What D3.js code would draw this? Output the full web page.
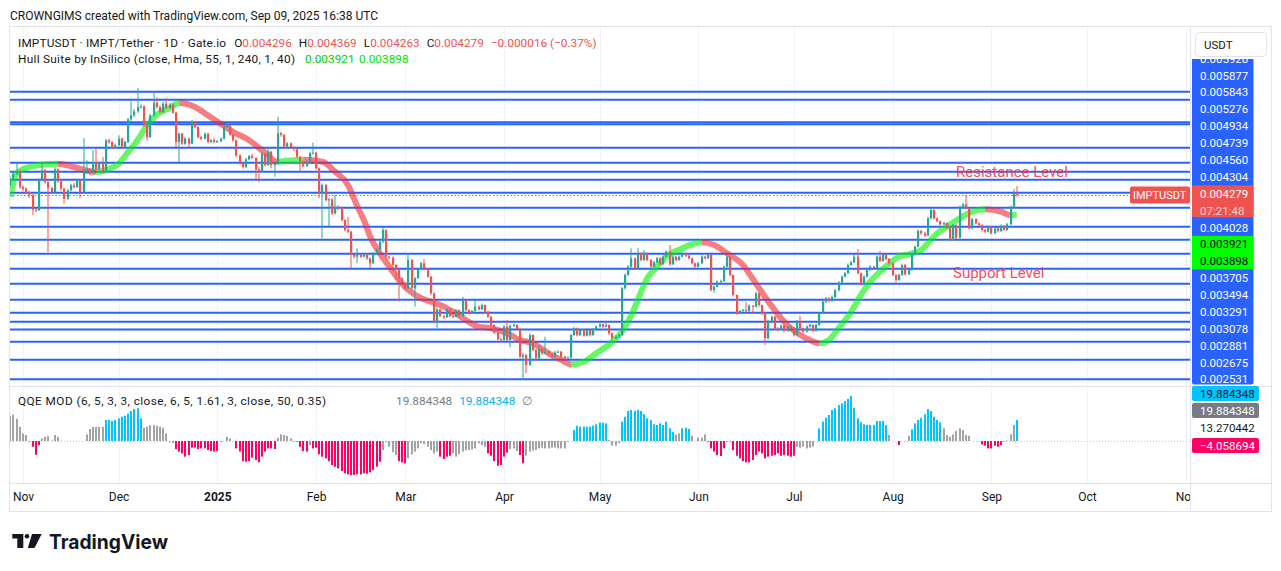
<!DOCTYPE html>
<html>
<head>
<meta charset="utf-8">
<script src="https://cdn.jsdelivr.net/npm/d3@7"></script>
<style>
  body { margin: 0; background: #fff; }
  svg { display: block; font-family: Roboto, "Noto Sans", sans-serif; }
</style>
</head>
<body>
<div id="chart"></div>
<script>
// prices are stored in millionths of a USDT
const PRICE_UNIT = 1e-6;
const firstDay = new Date(Date.UTC(2024, 9, 28));
const hullBase = new Date(Date.UTC(2024, 10, 1));

// daily candles, 28 Oct 2024 .. 9 Sep 2025
const open = [
  4376, 4442, 4492, 4516, 4359, 4342, 4309, 4276, 4132, 4126,
  4432, 4526, 4409, 4349, 4309, 4536, 4416, 4342, 4242, 4326,
  4376, 4359, 4426, 4309, 4509, 4536, 4502, 4609, 4536, 4592,
  4516, 4826, 4809, 4749, 4776, 4842, 4759, 4809, 5036, 5076,
  5116, 5159, 5166, 4976, 4859, 5076, 5202, 5159, 5109, 5192,
  5149, 5182, 5102, 4809, 4892, 4792, 4842, 4792, 5009, 4959,
  4859, 4842, 4892, 4809, 4826, 4809, 4816, 4842, 4959, 4976,
  4882, 4826, 4676, 4592, 4559, 4636, 4669, 4649, 4536, 4516,
  4692, 4579, 4712, 4579, 4596, 4896, 4879, 4762, 4796, 4756,
  4736, 4662, 4612, 4569, 4612, 4696, 4702, 4546, 4296, 4379,
  4229, 4236, 4096, 4162, 4146, 4029, 3929, 3912, 3679, 3662,
  3679, 3662, 3686, 3646, 3596, 3696, 3729, 3812, 3929, 3662,
  3652, 3579, 3529, 3446, 3396, 3346, 3629, 3346, 3446, 3536,
  3596, 3536, 3462, 3296, 3012, 3136, 3069, 3056, 3136, 3069,
  3062, 3129, 3069, 3229, 3129, 3096, 3119, 3162, 3136, 3179,
  3112, 3062, 2979, 2903, 2836, 2829, 2962, 2829, 2969, 2979,
  2940, 2662, 2679, 2579, 2879, 2729, 2646, 2739, 2696, 2712,
  2686, 2662, 2706, 2712, 2662, 2646, 2652, 2879, 2946, 2879,
  2929, 2872, 2929, 2879, 2939, 2962, 2986, 2962, 2979, 2896,
  2846, 2862, 2879, 3346, 3479, 3562, 3646, 3546, 3696, 3629,
  3696, 3629, 3562, 3606, 3646, 3586, 3662, 3712, 3586, 3662,
  3629, 3662, 3696, 3672, 3646, 3596, 3562, 3596, 3662, 3646,
  3679, 3329, 3362, 3412, 3419, 3562, 3662, 3479, 3279, 3096,
  3119, 3129, 3119, 3172, 3162, 3296, 3179, 3096, 2846, 3012,
  3062, 2946, 2929, 2972, 2919, 2962, 2952, 2879, 3012, 2946,
  2912, 2962, 2979, 2919, 2979, 3096, 3212, 3246, 3219, 3259,
  3326, 3406, 3462, 3496, 3579, 3606, 3662, 3496, 3386, 3462,
  3529, 3562, 3546, 3662, 3619, 3679, 3639, 3596, 3479, 3429,
  3479, 3579, 3486, 3529, 3686, 3762, 3919, 3896, 3872, 4046,
  4129, 4046, 4019, 3986, 3999, 3952, 3829, 3979, 3852, 4162,
  4186, 4146, 3946, 4039, 3996, 3979, 3929, 3912, 3962, 3896,
  3946, 3919, 3972, 3929, 3986, 4162, 4296
];
const high = [
  4470, 4510, 4599, 4530, 4375, 4355, 4320, 4290, 4150, 4445,
  4592, 4540, 4420, 4360, 4559, 4545, 4425, 4350, 4340, 4390,
  4400, 4445, 4435, 4849, 4626, 4550, 4726, 4742, 4610, 4659,
  4840, 4845, 4820, 4795, 4876, 4855, 4825, 5050, 5216, 5140,
  5349, 5185, 5175, 4990, 5090, 5309, 5259, 5175, 5210, 5249,
  5200, 5195, 5110, 4905, 4900, 4860, 4855, 5030, 5020, 4970,
  4870, 4905, 4900, 4840, 4850, 4830, 4855, 4975, 5000, 4985,
  4890, 4835, 4685, 4600, 4650, 4680, 4690, 4660, 4560, 4710,
  4700, 4746, 4720, 4620, 5062, 4910, 4890, 4810, 4805, 4770,
  4745, 4670, 4625, 4625, 4710, 4802, 4712, 4555, 4395, 4390,
  4250, 4245, 4279, 4175, 4155, 4035, 4060, 3920, 3690, 3746,
  3695, 3700, 3695, 3655, 3710, 3745, 3825, 3956, 3935, 3675,
  3665, 3590, 3540, 3455, 3405, 3689, 3640, 3460, 3550, 3610,
  3640, 3545, 3470, 3305, 3150, 3145, 3080, 3150, 3145, 3090,
  3140, 3135, 3262, 3235, 3140, 3130, 3236, 3175, 3195, 3185,
  3120, 3070, 2990, 2915, 2850, 2975, 3029, 2985, 2995, 2990,
  2950, 2700, 2690, 2896, 2885, 2740, 2779, 2750, 2862, 2720,
  2695, 2720, 2725, 2720, 2670, 2665, 2890, 2960, 2955, 2940,
  2935, 2945, 2935, 2950, 2975, 3000, 2995, 3010, 2985, 2905,
  2875, 2890, 3360, 3495, 3580, 3746, 3655, 3746, 3705, 3729,
  3705, 3640, 3620, 3660, 3655, 3675, 3725, 3779, 3675, 3670,
  3675, 3710, 3705, 3680, 3655, 3605, 3610, 3675, 3670, 3690,
  3685, 3375, 3425, 3435, 3575, 3675, 3670, 3485, 3285, 3130,
  3140, 3212, 3185, 3180, 3312, 3305, 3185, 3105, 3030, 3075,
  3070, 2960, 2985, 2980, 2975, 2975, 2960, 3030, 3072, 2955,
  2975, 2990, 2985, 2990, 3110, 3225, 3260, 3255, 3275, 3340,
  3420, 3475, 3510, 3595, 3620, 3680, 3739, 3505, 3475, 3545,
  3575, 3570, 3675, 3719, 3690, 3690, 3650, 3605, 3490, 3495,
  3595, 3590, 3545, 3700, 3775, 3935, 3930, 3910, 4060, 4145,
  4135, 4055, 4025, 4010, 4005, 3960, 3990, 3985, 4175, 4200,
  4279, 4155, 4050, 4045, 4005, 3985, 3940, 3975, 3970, 3960,
  3955, 3985, 3980, 4000, 4175, 4339, 4369
];
const low = [
  4350, 4425, 4480, 4340, 4320, 4290, 4250, 4076, 4110, 4120,
  4420, 4390, 3709, 4290, 4300, 4400, 4320, 4192, 4230, 4315,
  4345, 4350, 4249, 4300, 4495, 4480, 4495, 4520, 4525, 4500,
  4505, 4790, 4735, 4740, 4765, 4745, 4750, 4800, 5020, 5060,
  5100, 5140, 4960, 4826, 4850, 5065, 5140, 5095, 5100, 5135,
  5140, 5090, 4759, 4609, 4780, 4780, 4759, 4785, 4945, 4845,
  4825, 4835, 4795, 4800, 4795, 4800, 4810, 4835, 4950, 4870,
  4810, 4659, 4580, 4545, 4550, 4625, 4640, 4442, 4409, 4505,
  4565, 4570, 4546, 4462, 4585, 4860, 4750, 4750, 4740, 4720,
  4650, 4512, 4555, 4560, 4600, 4685, 4535, 4246, 3846, 4215,
  3962, 4080, 4085, 4130, 4015, 3915, 3895, 3536, 3645, 3596,
  3650, 3655, 3630, 3546, 3590, 3685, 3720, 3800, 3646, 3640,
  3512, 3429, 3213, 3380, 3330, 3340, 3330, 3162, 3440, 3525,
  3525, 3450, 3280, 2996, 2946, 3055, 3040, 3050, 3055, 3050,
  3055, 3055, 3060, 3115, 3085, 3090, 3110, 3125, 3130, 3100,
  3050, 2965, 2890, 2825, 2815, 2820, 2815, 2756, 2960, 2925,
  2646, 2429, 2496, 2570, 2715, 2630, 2640, 2680, 2690, 2670,
  2650, 2655, 2700, 2650, 2630, 2640, 2645, 2870, 2865, 2870,
  2860, 2865, 2865, 2870, 2930, 2955, 2950, 2955, 2880, 2830,
  2835, 2850, 2870, 3335, 3470, 3550, 3535, 3540, 3615, 3620,
  3615, 3550, 3555, 3600, 3575, 3580, 3655, 3575, 3580, 3615,
  3620, 3655, 3660, 3635, 3585, 3550, 3555, 3590, 3635, 3640,
  3315, 3300, 3355, 3400, 3410, 3555, 3465, 3265, 3080, 3085,
  3110, 3105, 3110, 3095, 3155, 3165, 3080, 2779, 2835, 3000,
  2935, 2915, 2920, 2905, 2910, 2940, 2865, 2870, 2935, 2900,
  2905, 2955, 2905, 2910, 2970, 3090, 3200, 3205, 3210, 3250,
  3315, 3395, 3455, 3490, 3570, 3600, 3485, 3370, 3375, 3455,
  3520, 3535, 3540, 3605, 3610, 3625, 3585, 3465, 3405, 3420,
  3470, 3475, 3480, 3520, 3680, 3755, 3880, 3860, 3865, 4035,
  4035, 4005, 3975, 3980, 3940, 3815, 3820, 3840, 3845, 4150,
  4135, 3935, 3935, 3985, 3965, 3915, 3900, 3905, 3885, 3890,
  3905, 3910, 3920, 3920, 3980, 4155, 4263
];
const close = [
  4442, 4492, 4516, 4359, 4342, 4309, 4276, 4132, 4126, 4432,
  4526, 4409, 4349, 4309, 4536, 4416, 4342, 4242, 4326, 4376,
  4359, 4426, 4309, 4509, 4536, 4502, 4609, 4536, 4592, 4516,
  4826, 4809, 4749, 4776, 4842, 4759, 4809, 5036, 5076, 5116,
  5159, 5166, 4976, 4859, 5076, 5202, 5159, 5109, 5192, 5149,
  5182, 5102, 4809, 4892, 4792, 4842, 4792, 5009, 4959, 4859,
  4842, 4892, 4809, 4826, 4809, 4816, 4842, 4959, 4976, 4882,
  4826, 4676, 4592, 4559, 4636, 4669, 4649, 4536, 4516, 4692,
  4579, 4712, 4579, 4596, 4896, 4879, 4762, 4796, 4756, 4736,
  4662, 4612, 4569, 4612, 4696, 4702, 4546, 4296, 4379, 4229,
  4236, 4096, 4162, 4146, 4029, 3929, 3912, 3679, 3662, 3679,
  3662, 3686, 3646, 3596, 3696, 3729, 3812, 3929, 3662, 3652,
  3579, 3529, 3446, 3396, 3346, 3629, 3346, 3446, 3536, 3596,
  3536, 3462, 3296, 3012, 3136, 3069, 3056, 3136, 3069, 3062,
  3129, 3069, 3229, 3129, 3096, 3119, 3162, 3136, 3179, 3112,
  3062, 2979, 2903, 2836, 2829, 2962, 2829, 2969, 2979, 2940,
  2662, 2679, 2579, 2879, 2729, 2646, 2739, 2696, 2712, 2686,
  2662, 2706, 2712, 2662, 2646, 2652, 2879, 2946, 2879, 2929,
  2872, 2929, 2879, 2939, 2962, 2986, 2962, 2979, 2896, 2846,
  2862, 2879, 3346, 3479, 3562, 3646, 3546, 3696, 3629, 3696,
  3629, 3562, 3606, 3646, 3586, 3662, 3712, 3586, 3662, 3629,
  3662, 3696, 3672, 3646, 3596, 3562, 3596, 3662, 3646, 3679,
  3329, 3362, 3412, 3419, 3562, 3662, 3479, 3279, 3096, 3119,
  3129, 3119, 3172, 3162, 3296, 3179, 3096, 2846, 3012, 3062,
  2946, 2929, 2972, 2919, 2962, 2952, 2879, 3012, 2946, 2912,
  2962, 2979, 2919, 2979, 3096, 3212, 3246, 3219, 3259, 3326,
  3406, 3462, 3496, 3579, 3606, 3662, 3496, 3386, 3462, 3529,
  3562, 3546, 3662, 3619, 3679, 3639, 3596, 3479, 3429, 3479,
  3579, 3486, 3529, 3686, 3762, 3919, 3896, 3872, 4046, 4129,
  4046, 4019, 3986, 3999, 3952, 3829, 3979, 3852, 4162, 4186,
  4146, 3946, 4039, 3996, 3979, 3929, 3912, 3962, 3896, 3946,
  3919, 3972, 3929, 3986, 4162, 4296, 4279
];

// Hull Suite line (day offset from 1 Nov 2024)
const hullDay = [-4, -2, 2, 6, 11, 16, 21, 23, 27, 30, 33, 36, 39, 42, 46, 49, 54, 58, 62, 66,
  71, 75, 77, 78, 80, 84, 88, 94, 98, 102, 105, 107, 109, 112, 115, 118, 121, 125, 128, 131,
  135, 139, 143, 147, 152, 156, 160, 165, 169, 172, 176, 180, 185, 188, 191, 193, 196, 199, 202, 207,
  211, 213, 217, 221, 226, 230, 234, 238, 241, 244, 247, 250, 253, 256, 260, 263, 266, 269, 272, 275,
  278, 282, 284, 287, 290, 294, 298, 302, 307, 310, 312];
const hullValue = [4259, 4492, 4559, 4582, 4592, 4559, 4516, 4509, 4539, 4592, 4709, 4829, 4979, 5082, 5149, 5199, 5159, 5076, 4992, 4909,
  4826, 4726, 4679, 4640, 4612, 4624, 4632, 4612, 4512, 4379, 4162, 4029, 3862, 3696, 3562, 3429, 3329, 3246, 3212, 3179,
  3112, 3029, 2962, 2946, 2896, 2829, 2796, 2696, 2629, 2586, 2612, 2696, 2812, 2912, 3079, 3229, 3449, 3562, 3662, 3746,
  3796, 3806, 3779, 3696, 3579, 3396, 3212, 3046, 2946, 2879, 2829, 2796, 2829, 2946, 3112, 3279, 3412, 3512, 3596, 3662,
  3686, 3729, 3796, 3896, 3962, 4046, 4112, 4136, 4112, 4079, 4085];

// QQE MOD histogram, one value per candle, and its colour state (g grey, b blue, p pink)
const qqeHist = [
  24, 25, 21, 13.6, 7.3, 5.7, -1, -5.4, -13, -3.8,
  2.5, 4, 4.7, 0.5, 5.7, 4, 0.3, 0, 0, 0,
  0, 0, 0, 0, 6.3, 11.4, 13.3, 13.3, 13.3, 13.3,
  19.9, 19.9, 19, 19.9, 21.5, 23, 24, 26, 28.4, 30.3,
  31, 21.5, 12.6, 13.6, 15, 15, 14.5, 13.6, 12.6, 7.3,
  -1, -2, -7.6, -10, -11.7, -14.8, -13.3, -6.3, -6.3, -7.6,
  -7, -7, -8.5, -9.5, -10, -9.5, -1, 0, 4, 2.5,
  0, -7, -10, -19, -19.6, -19, -15.8, -18, -20.2, -14.8,
  -10, -7, -7, -7.6, 3, 6.3, 5.7, 5, 2.5, -0.6,
  -1, -5.4, -9.5, -10, -3.8, -7, -6.3, -12.6, -14.8, -16.4,
  -19, -22.7, -24.3, -25.9, -28.4, -30.6, -31.6, -32.2, -32.2, -31.6,
  -31.6, -30.6, -31, -29.7, -27.5, -24.3, -19.6, -8.5, -1, -5.4,
  -10.7, -13.3, -19, -20.2, -21.1, -16.4, -12.6, -10, -7, -2,
  -3, -5.4, -8.5, -11.7, -10, -14.8, -17, -14.8, -13.9, -11.7,
  -14.8, -12.6, -10, -8.5, -8.5, -7.9, -7, -2, -3.8, -5.4,
  -11.7, -13.9, -19, -23.4, -22.7, -14.8, -11, -7.6, -7, -9.5,
  -13.3, -21.1, -13.9, -10, -9, -8.5, -7, -6.3, -7, -7,
  -6.3, -6.3, -7, -7, -7, -1, 0, 10.4, 14.5, 13.6,
  13.6, 13.6, 13.6, 14.5, 15.8, 17.4, 17.4, 16.7, 1, -4.4,
  -4.4, -2, 18.3, 23, 28.4, 29.4, 28.7, 29.4, 28.4, 25.3,
  21.5, 19.9, 15.8, 15.2, 16.7, 15.2, 18.3, 12, 8.8, 6.3,
  7.3, 12, 12.6, 11.4, 5, 0, 3.2, 3.2, 6.3, -1,
  -7, -10, -13.3, -14.2, -7, -1, -1, -8.5, -13.9, -16.4,
  -19, -20.2, -20.2, -18, -13.3, -10, -11.7, -16.4, -14.8, -13.9,
  -13.3, -11.7, -13.9, -13.3, -13.9, -14.8, -13.9, -5.4, -6.3, -5.4,
  -7, -6.3, -5.4, 0, 12, 18.3, 22, 24.6, 29.4, 31,
  34, 35.7, 37.9, 39.8, 42.6, 31.6, 21.5, 17.7, 15.8, 15.2,
  15.2, 15.2, 19, 19, 19, 15.2, 5.7, 0, 0, -3.8,
  0, 0, 5, 11, 16.7, 19.9, 22, 25.3, 30.3, 28.4,
  23, 19.9, 17.7, 12, 5.7, 4.1, 6.3, 9.5, 12, 10.4,
  5.7, 5, 0, 0, -0.5, -3.2, -4.4, -7, -7, -4.4,
  -5.4, -3.8, -1, 0.5, 6.3, 15.2, 19.884348
];
const qqeState = [
  'gggggggppp', 'gggggggggg', 'gggggggggg', 'bbbbbbbbbb', 'bbgggggggg',
  'ggpppppppp', 'ppppppgggg', 'gppppppppp', 'ppppgggggg', 'gpppgppppp',
  'pppppppppp', 'pppppppggg', 'ggpppggggg', 'gggggppppg', 'gggggggggg',
  'pppppppggg', 'ppgggggggg', 'gggggggbbb', 'bbbbbbbbgg', 'ggbbbbbbbb',
  'bbbbbbbbbg', 'gbbbgggggg', 'pppppggppp', 'pppppppppp', 'pppppppggg',
  'ggggbbbbbb', 'bbbbbbbbbb', 'bbbbbbgggp', 'gggbbbbbbb', 'bbbggggggg',
  'gggggppppp', 'ppggggb'
].join('').split('');

// horizontal levels drawn on the chart
const levelPrices = [5312, 5232, 5006, 4986, 4752, 4602, 4512, 4432, 4302, 4152, 3962,
  3832, 3692, 3542, 3392, 3232, 3102, 3012, 2934, 2812, 2632, 2437];
const lastPrice = 4279;

// price-scale labels as they are stacked on the axis
const levelLabelsTop = ['0.005920', '0.005877', '0.005843', '0.005276', '0.004934', '0.004739', '0.004560', '0.004304'];
const levelLabelsMid = ['0.004028'];
const levelLabelsBottom = ['0.003705', '0.003494', '0.003291', '0.003078', '0.002881', '0.002675', '0.002531'];
const countdown = '07:21:48';

const legendTitle = 'IMPTUSDT · IMPT/Tether · 1D · Gate.io';
const legendChange = '−0.000016 (−0.37%)';
const hullTitle = 'Hull Suite by InSilico (close, Hma, 55, 1, 240, 1, 40)';
const hullLegend = ['0.003921', '0.003898'];
const qqeTitle = 'QQE MOD (6, 5, 3, 3, close, 6, 5, 1.61, 3, close, 50, 0.35)';
const qqeLegend = ['19.884348', '19.884348'];
const qqeAxisLabels = ['19.884348', '19.884348', '13.270442', '−4.058694'];

const monthDates = [[2024, 10], [2024, 11], [2025, 0], [2025, 1], [2025, 2], [2025, 3], [2025, 4],
  [2025, 5], [2025, 6], [2025, 7], [2025, 8], [2025, 9], [2025, 10]];
const monthNames = ['Nov', 'Dec', '2025', 'Feb', 'Mar', 'Apr', 'May', 'Jun', 'Jul', 'Aug', 'Sep', 'Oct', 'Nov'];

// ---------------------------------------------------------------
const W = 1281, H = 571;
const paneL = 10, paneR = 1190;
const priceTop = 27, priceBot = 386;
const qqeTop = 387, qqeBot = 483;
const UP = '#26a69a', DOWN = '#ef5350', LEVEL = '#2962ff', TEXT = '#131722';
const qqeColor = { g: '#a3a3a3', b: '#00c3ff', p: '#ff0062' };

const svg = d3.select('#chart').append('svg').attr('width', W).attr('height', H);
const defs = svg.append('defs');

const days = close.map((_, i) => d3.utcDay.offset(firstDay, i));
const x = d3.scaleUtc()
  .domain([new Date(Date.UTC(2024, 10, 1)), new Date(Date.UTC(2025, 9, 1))])
  .range([23, 1087]);
const y = d3.scaleLinear().domain([0.002379, 0.005929]).range([385, 30]);
const yq = d3.scaleLinear().domain([-40.7, 52.1]).range([484, 386]);
const p = v => y(v * PRICE_UNIT);

defs.append('clipPath').attr('id', 'clip-price').append('rect')
  .attr('x', paneL).attr('y', priceTop).attr('width', paneR - paneL).attr('height', priceBot - priceTop);
defs.append('clipPath').attr('id', 'clip-qqe').append('rect')
  .attr('x', paneL).attr('y', qqeTop).attr('width', paneR - paneL).attr('height', qqeBot - qqeTop);
defs.append('clipPath').attr('id', 'clip-time').append('rect')
  .attr('x', paneL).attr('y', qqeBot).attr('width', paneR - paneL).attr('height', 30);
defs.append('clipPath').attr('id', 'clip-axis').append('rect')
  .attr('x', 1191).attr('y', 59).attr('width', 80).attr('height', 330);

// header
svg.append('text').attr('x', 10).attr('y', 19.5).attr('font-size', 12).attr('fill', TEXT)
  .text('CROWNGIMS created with TradingView.com, Sep 09, 2025 16:38 UTC');

// frame
svg.append('rect').attr('x', 9.5).attr('y', 26.5).attr('width', 1262).attr('height', 485)
  .attr('fill', 'none').attr('stroke', '#e0e3eb');
[[10, 1271, 386.5, 386.5], [10, 1271, 483.5, 483.5], [1190.5, 1190.5, 27, 511]].forEach(l => {
  svg.append('line').attr('x1', l[0]).attr('x2', l[1]).attr('y1', l[2]).attr('y2', l[3]).attr('stroke', '#e0e3eb');
});

// vertical grid
const monthTicks = monthDates.map(m => new Date(Date.UTC(m[0], m[1], 1)));
const grid = svg.append('g');
monthTicks.forEach(d => {
  const gx = Math.round(x(d)) + 0.5;
  if (gx > paneR) return;
  grid.append('line').attr('x1', gx).attr('x2', gx).attr('y1', priceTop).attr('y2', qqeBot)
    .attr('stroke', '#f0f3fa');
});

// ---- price pane
const pricePane = svg.append('g').attr('clip-path', 'url(#clip-price)');

pricePane.append('g').selectAll('line').data(levelPrices).join('line')
  .attr('x1', paneL).attr('x2', paneR)
  .attr('y1', d => p(d)).attr('y2', d => p(d))
  .attr('stroke', LEVEL).attr('stroke-width', 2);

pricePane.append('line').attr('x1', paneL).attr('x2', paneR)
  .attr('y1', Math.round(p(lastPrice)) + 0.5).attr('y2', Math.round(p(lastPrice)) + 0.5)
  .attr('stroke', DOWN).attr('stroke-dasharray', '1.5 2');

// hull band, coloured by direction
const hullPts = hullDay.map((d, i) => [x(d3.utcDay.offset(hullBase, d)), hullValue[i]]);
const hullRuns = [];
for (let i = 0; i < hullPts.length - 1; i++) {
  const up = hullPts[i + 1][1] >= hullPts[i][1];
  const last = hullRuns[hullRuns.length - 1];
  if (last && last.up === up) last.x1 = hullPts[i + 1][0];
  else hullRuns.push({ up, x0: hullPts[i][0], x1: hullPts[i + 1][0] });
}
const hullLine = d3.line().x(d => d[0]).y(d => p(d[1])).curve(d3.curveMonotoneX);
hullRuns.forEach((r, i) => {
  defs.append('clipPath').attr('id', 'hull-' + i).append('rect')
    .attr('x', r.x0).attr('y', 0).attr('width', r.x1 - r.x0 + 0.01).attr('height', H);
  pricePane.append('path').datum(hullPts)
    .attr('clip-path', `url(#hull-${i})`)
    .attr('d', hullLine)
    .attr('fill', 'none')
    .attr('stroke', r.up ? '#00f000' : '#f0282f')
    .attr('stroke-opacity', 0.6)
    .attr('stroke-width', 6);
});

// candles
const candles = pricePane.append('g');
days.forEach((d, i) => {
  const cx = Math.round(x(d));
  const col = close[i] >= open[i] ? UP : DOWN;
  candles.append('rect').attr('x', cx - 0.5).attr('width', 1)
    .attr('y', p(high[i])).attr('height', Math.max(1, p(low[i]) - p(high[i])))
    .attr('fill', col);
  const top = p(Math.max(open[i], close[i]));
  const bot = p(Math.min(open[i], close[i]));
  candles.append('rect').attr('x', cx - 1).attr('width', 2.2)
    .attr('y', top).attr('height', Math.max(1, bot - top))
    .attr('fill', col);
});

// annotations
svg.append('text').attr('x', 956).attr('y', 177).attr('font-size', 15).attr('fill', '#f23645')
  .attr('fill-opacity', 0.9).text('Resistance Level');
svg.append('text').attr('x', 953).attr('y', 278).attr('font-size', 15).attr('fill', '#f23645')
  .attr('fill-opacity', 0.9).text('Support Level');

// legend
const fmt = v => (v * PRICE_UNIT).toFixed(6);
const n = close.length - 1;
const l1 = svg.append('text').attr('x', 18).attr('y', 46.5).attr('font-size', 11.8).attr('fill', TEXT);
l1.append('tspan').attr('textLength', 208).attr('lengthAdjust', 'spacing').text(legendTitle);
[['O', open[n]], ['H', high[n]], ['L', low[n]], ['C', close[n]]].forEach((f, i) => {
  l1.append('tspan').attr('dx', i === 0 ? 8 : 7).text(f[0]);
  l1.append('tspan').attr('fill', DOWN).text(fmt(f[1]));
});
l1.append('tspan').attr('dx', 7).attr('fill', DOWN).text(legendChange);

const l2 = svg.append('text').attr('x', 18).attr('y', 63).attr('font-size', 11.8).attr('fill', TEXT);
l2.append('tspan').attr('textLength', 277).attr('lengthAdjust', 'spacing').text(hullTitle);
l2.append('tspan').attr('x', 305).attr('fill', '#00d000').text(hullLegend[0]);
l2.append('tspan').attr('x', 359).attr('fill', '#00e600').text(hullLegend[1]);

// ---- QQE pane
const qqePane = svg.append('g').attr('clip-path', 'url(#clip-qqe)');
qqePane.append('line').attr('x1', paneL).attr('x2', paneR).attr('y1', yq(0) + 0.5).attr('y2', yq(0) + 0.5)
  .attr('stroke', '#c9ccd4').attr('stroke-dasharray', '1 2');
qqePane.append('g').selectAll('rect').data(qqeHist).join('rect')
  .attr('x', (d, i) => Math.round(x(days[i])) - 1)
  .attr('width', 2)
  .attr('y', d => Math.min(yq(d), yq(0)))
  .attr('height', d => Math.abs(yq(d) - yq(0)))
  .attr('fill', (d, i) => qqeColor[qqeState[i]]);

const lq = svg.append('text').attr('x', 18).attr('y', 405).attr('font-size', 11.8).attr('fill', TEXT);
lq.append('tspan').attr('textLength', 308).attr('lengthAdjust', 'spacing').text(qqeTitle);
lq.append('tspan').attr('x', 396).attr('fill', '#787b86').text(qqeLegend[0]);
lq.append('tspan').attr('dx', 7).attr('fill', '#00b4f0').text(qqeLegend[1]);
lq.append('tspan').attr('dx', 7).attr('fill', '#787b86').text('∅');

// ---- time axis
const xAxis = d3.axisBottom(x).tickValues(monthTicks).tickSize(0).tickPadding(0)
  .tickFormat((d, i) => monthNames[i]);
const axisWrap = svg.append('g').attr('clip-path', 'url(#clip-time)');
const axisG = axisWrap.append('g').attr('transform', `translate(0,${qqeBot + 9})`).call(xAxis);
axisG.select('.domain').remove();
axisG.selectAll('text').attr('font-size', 12).attr('fill', TEXT)
  .attr('font-family', 'Roboto, "Noto Sans", sans-serif')
  .attr('font-weight', (d, i) => monthNames[i] === '2025' ? 700 : 400);

// ---- price axis labels (stacked)
const axis = svg.append('g').attr('clip-path', 'url(#clip-axis)');
const slotY = i => 58.7 + i * 16.88;
const labX = 1200;
axis.append('rect').attr('x', 1192).attr('y', 50).attr('width', 61.5).attr('height', 334.5)
  .attr('rx', 2).attr('fill', LEVEL);
const stacked = [];
levelLabelsTop.forEach((t, i) => stacked.push([t, i]));
levelLabelsMid.forEach((t, i) => stacked.push([t, 10 + i]));
levelLabelsBottom.forEach((t, i) => stacked.push([t, 13 + i]));
axis.selectAll('text.lvl').data(stacked).join('text').attr('class', 'lvl')
  .attr('x', labX).attr('y', d => slotY(d[1]) + 4).attr('font-size', 11.5).attr('fill', '#fff')
  .text(d => d[0]);

// last price
axis.append('rect').attr('x', 1192).attr('y', slotY(8) - 8.5).attr('width', 61.5).attr('height', 32)
  .attr('rx', 2).attr('fill', DOWN);
axis.append('text').attr('x', labX).attr('y', slotY(8) + 4).attr('font-size', 11.5).attr('fill', '#fff')
  .text(fmt(lastPrice));
axis.append('text').attr('x', labX).attr('y', slotY(9) + 4).attr('font-size', 11.5).attr('fill', '#fff')
  .attr('fill-opacity', 0.75).text(countdown);
svg.append('rect').attr('x', 1130).attr('y', p(lastPrice) - 8.5).attr('width', 60).attr('height', 17)
  .attr('rx', 2).attr('fill', DOWN);
svg.append('text').attr('x', 1133).attr('y', p(lastPrice) + 4).attr('font-size', 11).attr('fill', '#fff')
  .text('IMPTUSDT');

// hull values
axis.append('rect').attr('x', 1192).attr('y', slotY(11) - 8.5).attr('width', 61.5).attr('height', 33.5)
  .attr('fill', '#00ff00');
hullLegend.forEach((t, i) => {
  axis.append('text').attr('x', labX).attr('y', slotY(11 + i) + 4).attr('font-size', 11.5)
    .attr('fill', '#000').text(t);
});

// currency box
svg.append('rect').attr('x', 1195.5).attr('y', 32.5).attr('width', 71).attr('height', 24).attr('rx', 4)
  .attr('fill', '#fff').attr('stroke', '#e0e3eb');
svg.append('text').attr('x', 1204).attr('y', 48.5).attr('font-size', 11.5).attr('fill', TEXT).text('USDT');

// QQE axis labels
const qqeBoxes = [
  { y: 386, bg: '#00c3ff', fg: TEXT },
  { y: 403, bg: '#787b86', fg: '#fff' },
  { y: 420, bg: null, fg: TEXT },
  { y: 438, bg: '#ff0062', fg: '#fff' }
];
const qAxis = svg.append('g');
qqeBoxes.forEach((b, i) => {
  if (b.bg) qAxis.append('rect').attr('x', 1192).attr('y', b.y).attr('width', 67).attr('height', 15)
    .attr('rx', 2).attr('fill', b.bg);
  qAxis.append('text').attr('x', labX).attr('y', b.y + 11.5).attr('font-size', 11.5).attr('fill', b.fg)
    .text(qqeAxisLabels[i]);
});

// TradingView logo
const logo = svg.append('g').attr('fill', TEXT);
logo.append('path').attr('d', 'M12.3,534 H23.3 V548 H17.3 V538.4 H12.3 Z');
logo.append('circle').attr('cx', 27).attr('cy', 536.3).attr('r', 2.3);
logo.append('path').attr('d', 'M32,534 H41.7 L34.5,548 H27.8 Z');
svg.append('text').attr('x', 49).attr('y', 548.5).attr('font-size', 20).attr('font-weight', 700)
  .attr('fill', TEXT).attr('font-family', 'Inter, Roboto, sans-serif').attr('textLength', 119)
  .attr('lengthAdjust', 'spacingAndGlyphs').text('TradingView');
</script>
</body>
</html>
